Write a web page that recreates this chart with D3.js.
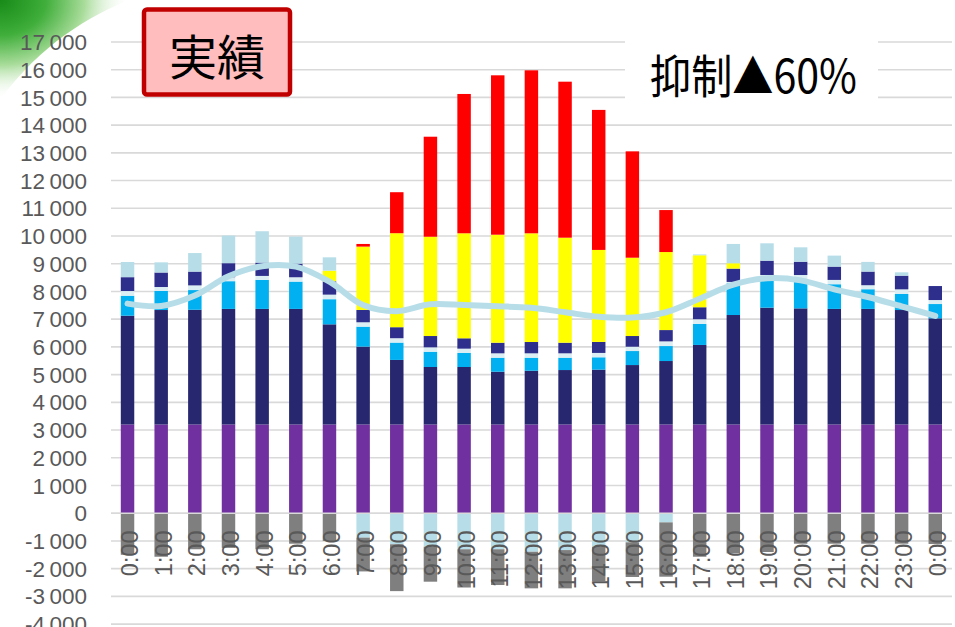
<!DOCTYPE html>
<html><head><meta charset="utf-8">
<script src="https://cdn.jsdelivr.net/npm/d3@7"></script>
<style>body{margin:0;background:#fff;} svg{display:block}</style>
</head><body><svg id="c" width="955" height="627"></svg>
<script>
// ---- data ----
const hours = ["0:00","1:00","2:00","3:00","4:00","5:00","6:00","7:00","8:00","9:00","10:00","11:00","12:00","13:00","14:00","15:00","16:00","17:00","18:00","19:00","20:00","21:00","22:00","23:00","0:00"];
const nuclear = [3200,3200,3200,3200,3200,3200,3200,3200,3200,3200,3200,3200,3200,3200,3200,3200,3200,3200,3200,3200,3200,3200,3200,3200,3200];
const thermal = [3925,4130,4140,4170,4170,4170,3614,2810,2330,2075,2075,1905,1940,1965,1980,2145,2290,2870,3950,4215,4190,4170,4170,4130,3830];
const hydro = [720,686,710,1000,1046,985,906,720,625,550,505,505,470,445,445,505,540,757,1143,1026,1047,890,710,578,516];
const geothermal = [170,144,169,144,144,157,165,158,158,159,156,158,158,158,157,156,169,170,50,153,156,156,145,168,144];
const wind = [500,523,497,506,480,492,480,444,397,408,374,383,408,383,397,386,408,433,481,516,480,480,492,493,505];
const solar = [0,0,0,0,0,0,384,2285,3391,3582,3788,3896,3921,3788,3319,2825,2814,1875,193,0,0,0,0,0,0];
const pumpGen = [547,367,669,996,1132,974,482,0,0,0,0,0,0,0,0,0,0,30,696,627,519,397,349,121,0];
const curtail = [0,0,0,0,0,0,0,96,1479,3608,5026,5750,5880,5628,5051,3837,1515,0,0,0,0,0,0,0,0];
const pumpUse = [0,0,0,0,0,0,0,-880,-1120,-1210,-1300,-1300,-1390,-1330,-1210,-1050,-330,0,0,0,0,0,0,0,0];
const interconnect = [-1500,-1570,-1300,-1250,-1300,-1100,-1000,-1220,-1690,-1260,-1380,-1290,-1320,-1380,-1236,-1250,-1960,-1570,-1450,-1400,-1100,-1100,-1100,-1100,-1110];
const demand = [7560,7475,7850,8545,8910,8893,8351,7510,7290,7536,7510,7465,7410,7250,7090,7060,7250,7740,8245,8473,8400,8076,7800,7460,7120];
const yTicks = [-4000,-3000,-2000,-1000,0,1000,2000,3000,4000,5000,6000,7000,8000,9000,10000,11000,12000,13000,14000,15000,16000,17000];

const seriesKeys = ["nuclear","thermal","hydro","geothermal","wind","solar","pumpGen","curtail","pumpUse","interconnect"];
const seriesData = {nuclear,thermal,hydro,geothermal,wind,solar,pumpGen,curtail,pumpUse,interconnect};
const colors = {nuclear:"#7030A0",thermal:"#27276F",hydro:"#00B0F0",geothermal:"#DAEEF3",wind:"#2E2F8C",solar:"#FFFF00",pumpGen:"#B7DEE8",curtail:"#FF0000",pumpUse:"#B7DEE8",interconnect:"#7F7F7F"};

const table = hours.map((h,i)=>{const o={i}; seriesKeys.forEach(k=>o[k]=seriesData[k][i]); return o;});

// ---- chart ----
const svg = d3.select("#c");
const x = d3.scaleBand().domain(d3.range(hours.length)).range([110.7,952.1]).paddingInner(0.6).paddingOuter(0.3);
const y = d3.scaleLinear().domain([-4000,17000]).range([624.1,41.96]);

// decoration top-left
const defs = svg.append("defs");
const rg = defs.append("radialGradient").attr("id","gr").attr("cx",0).attr("cy",0).attr("r",1).attr("gradientUnits","objectBoundingBox");
rg.append("stop").attr("offset","0").attr("stop-color","#178a17");
rg.append("stop").attr("offset","0.35").attr("stop-color","#3fae3a");
rg.append("stop").attr("offset","0.65").attr("stop-color","#a8dc9a");
rg.append("stop").attr("offset","1").attr("stop-color","#ffffff").attr("stop-opacity",0);
svg.append("path").attr("d","M0,0 H130 C90,15 40,45 0,100 Z").attr("fill","url(#gr)");

// gridlines
svg.append("g").selectAll("line").data(yTicks).join("line")
  .attr("x1",111).attr("x2",952).attr("y1",d=>y(d)).attr("y2",d=>y(d))
  .attr("stroke","#D9D9D9").attr("stroke-width",1.6);

// y labels
const fmt = v => { const s = Math.abs(v) >= 1000 ? (Math.trunc(v/1000)) + "\u2009" + String(Math.abs(v)%1000).padStart(3,"0") : String(v); return s; };
svg.append("g").selectAll("text").data(yTicks).join("text")
  .attr("x",87).attr("y",d=>y(d)).attr("dy","0.36em").attr("text-anchor","end")
  .attr("font-family","Liberation Sans, Arial, sans-serif").attr("font-size",22.5).attr("fill","#595959")
  .text(fmt);

// bars
const stack = d3.stack().keys(seriesKeys).offset(d3.stackOffsetDiverging);
const layers = stack(table);
svg.append("g").selectAll("g").data(layers).join("g").attr("fill",d=>colors[d.key])
  .selectAll("rect").data(d=>d).join("rect")
  .attr("x",d=>x(d.data.i)).attr("width",x.bandwidth())
  .attr("y",d=>y(Math.max(d[0],d[1]))).attr("height",d=>Math.abs(y(d[0])-y(d[1])));

// zero line on top
svg.append("line").attr("x1",111).attr("x2",952).attr("y1",y(0)).attr("y2",y(0)).attr("stroke","#D9D9D9").attr("stroke-width",1.6);

// demand line
const line = d3.line().x((d,i)=>x(i)+x.bandwidth()/2).y(d=>y(d)).curve(d3.curveCatmullRom.alpha(0.5));
svg.append("path").datum(demand).attr("d",line).attr("fill","none").attr("stroke","#B7DEE8").attr("stroke-width",6).attr("stroke-linecap","round").attr("stroke-linejoin","round");

// x labels
svg.append("g").selectAll("text").data(hours).join("text")
  .attr("transform",(d,i)=>`translate(${x(i)+x.bandwidth()/2+10.5},530.5) rotate(-90)`)
  .attr("text-anchor","end")
  .attr("font-family","Liberation Sans, Arial, sans-serif").attr("font-size",23.5).attr("fill","#595959")
  .text(d=>d);

// 実績 box
svg.append("rect").attr("x",144).attr("y",9.5).attr("width",146).attr("height",85).attr("rx",3)
  .attr("fill","#FFBDBD").attr("stroke","#C00000").attr("stroke-width",4.5);
svg.append("text").attr("x",217).attr("y",58).attr("dy","0.36em").attr("text-anchor","middle")
  .attr("font-family","Noto Sans CJK JP, sans-serif").attr("font-size",48).attr("fill","#000").text("実績");

// 抑制 box
svg.append("rect").attr("x",625).attr("y",37).attr("width",253).attr("height",78).attr("fill","#fff");
svg.append("text").attr("x",650).attr("y",76).attr("dy","0.36em")
  .attr("font-family","Noto Sans CJK JP, sans-serif").attr("font-size",46).attr("fill","#000")
  .attr("textLength",207).attr("lengthAdjust","spacingAndGlyphs").text("抑制▲60%");
</script></body></html>
